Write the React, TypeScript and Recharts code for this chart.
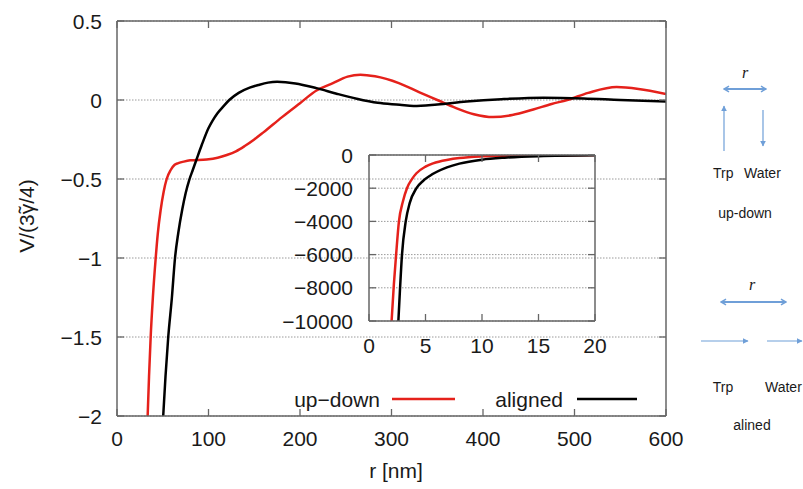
import React from "react";
import { LineChart, Line, XAxis, YAxis, CartesianGrid } from "recharts";

// ---- main chart data (r in nm, V/(3γ̃/4)) ----
const upDownR = [33.5, 35, 36.8, 39.2, 42.3, 44.5, 47.7, 51, 54.3, 58.7, 63, 67, 73, 80, 98, 110, 120, 130, 140, 150, 160, 180, 200, 218, 236, 252, 266, 282, 308, 330, 350, 370, 390, 411, 432, 455, 475, 492, 515, 546, 570, 600];
const upDownV = [-2, -1.75, -1.5, -1.25, -1.0, -0.85, -0.696, -0.58, -0.5, -0.443, -0.41, -0.4, -0.39, -0.382, -0.376, -0.365, -0.348, -0.325, -0.29, -0.25, -0.205, -0.11, -0.02, 0.06, 0.107, 0.148, 0.16, 0.15, 0.107, 0.05, 0.0, -0.05, -0.09, -0.108, -0.095, -0.06, -0.025, 0.0, 0.045, 0.082, 0.07, 0.038];
const alignedR = [50.5, 53, 56, 60, 63.4, 67, 71.4, 75, 79, 83, 87, 92.6, 99.8, 104.5, 109.6, 116, 122.7, 133, 145, 154.5, 165, 175, 195, 218, 240, 262, 285, 309, 324, 350, 382, 420, 466, 510, 550, 600];
const alignedV = [-2, -1.75, -1.5, -1.25, -1.0, -0.84, -0.69, -0.59, -0.505, -0.44, -0.375, -0.285, -0.18, -0.13, -0.085, -0.042, 0.0, 0.045, 0.078, 0.095, 0.11, 0.115, 0.105, 0.075, 0.04, 0.008, -0.018, -0.03, -0.038, -0.028, -0.01, 0.005, 0.015, 0.01, 0.0, -0.01];

// ---- inset data ----
const insetUpDownR = [2.0, 2.2, 2.4, 2.65, 3.0, 3.36, 3.8, 4.2, 5.0, 5.67, 7, 8, 10, 12, 15, 20];
const insetUpDownV = [-10000, -7800, -6000, -4000, -2800, -2000, -1450, -1100, -700, -500, -280, -180, -80, -40, -15, -5];
const insetAlignedR = [2.6, 2.75, 2.92, 3.25, 3.6, 4.2, 4.8, 5.4, 6.9, 8, 10, 12, 15, 20];
const insetAlignedV = [-10000, -8000, -6000, -4000, -2900, -2000, -1550, -1250, -750, -520, -280, -160, -70, -20];

// ---- ticks ----
const mainXTicks = [0, 100, 200, 300, 400, 500, 600];
const mainYTicks = [-2, -1.5, -1, -0.5, 0, 0.5];
const insetXTicks = [0, 5, 10, 15, 20];
const insetYTicks = [-10000, -8000, -6000, -4000, -2000, 0];

const zip = (xs: number[], ys: number[]) => xs.map((x, i) => ({ r: x, v: ys[i] }));
const upDownData = zip(upDownR, upDownV);
const alignedData = zip(alignedR, alignedV);
const insetUpDownData = zip(insetUpDownR, insetUpDownV);
const insetAlignedData = zip(insetAlignedR, insetAlignedV);

const FONT = "'Liberation Sans', Arial, Helvetica, sans-serif";
const FRAME = "#666";
const TEXT = "#1a1a1a";
const RED = "#e5211b";
const fmt = (v: number) => (v < 0 ? "\u2212" + String(-v) : String(v));

const TICK = 7;

const BottomTick = (props: any) => {
  const { x, y, payload } = props;
  return (
    <g>
      <line x1={x} x2={x} y1={y} y2={y - TICK} stroke={FRAME} strokeWidth={1.3} />
      <text x={x} y={y + 30} textAnchor="middle" fontSize={21} fontFamily={FONT} fill={TEXT}>
        {fmt(payload.value)}
      </text>
    </g>
  );
};
const TopTick = (props: any) => {
  const { x, y } = props;
  return <line x1={x} x2={x} y1={y} y2={y + TICK} stroke={FRAME} strokeWidth={1.3} />;
};
const LeftTick = (props: any) => {
  const { x, y, payload } = props;
  return (
    <g>
      <line x1={x} x2={x + TICK} y1={y} y2={y} stroke={FRAME} strokeWidth={1.3} />
      <text x={x - 15} y={y + 7.5} textAnchor="end" fontSize={21} fontFamily={FONT} fill={TEXT}>
        {fmt(payload.value)}
      </text>
    </g>
  );
};
const RightTick = (props: any) => {
  const { x, y } = props;
  return <line x1={x} x2={x - TICK} y1={y} y2={y} stroke={FRAME} strokeWidth={1.3} />;
};
const InsetBottomTick = (props: any) => {
  const { x, y, payload } = props;
  return (
    <g>
      <line x1={x} x2={x} y1={y} y2={y - TICK} stroke={FRAME} strokeWidth={1.3} />
      <text x={x} y={y + 32} textAnchor="middle" fontSize={21} fontFamily={FONT} fill={TEXT}>
        {fmt(payload.value)}
      </text>
    </g>
  );
};
const InsetLeftTick = (props: any) => {
  const { x, y, payload } = props;
  return (
    <g>
      <line x1={x} x2={x + TICK} y1={y} y2={y} stroke={FRAME} strokeWidth={1.3} />
      <text x={x - 16} y={y + 7.5} textAnchor="end" fontSize={21} fontFamily={FONT} fill={TEXT}>
        {fmt(payload.value)}
      </text>
    </g>
  );
};

const W = 803;
const H = 489;
const ARROW = "#6f9fd8";

type Box = { left: number; top: number; right: number; bottom: number };

function Panel(props: {
  box: Box;
  xDomain: [number, number];
  yDomain: [number, number];
  xTicks: number[];
  yTicks: number[];
  bottomTick: React.ReactElement;
  leftTick: React.ReactElement;
  series: { data: { r: number; v: number }[]; color: string }[];
}) {
  const { box, xDomain, yDomain, xTicks, yTicks, bottomTick, leftTick, series } = props;
  // axes are 1px thick, so the margin is reduced by 1 on each side
  const margin = { top: box.top - 1, left: box.left - 1, right: W - box.right - 1, bottom: H - box.bottom - 1 };
  const axisLine = { stroke: FRAME, strokeWidth: 1.5 };
  return (
    <LineChart width={W} height={H} margin={margin}>
      <CartesianGrid xAxisId="b" yAxisId="l" vertical={false} stroke="#9a9a9a" strokeDasharray="1.5 1.5" strokeWidth={1} />
      <XAxis xAxisId="b" dataKey="r" type="number" domain={xDomain} ticks={xTicks} allowDataOverflow height={1}
        tickSize={0} tickMargin={0} tick={bottomTick} tickLine={false} axisLine={axisLine} interval={0} />
      <XAxis xAxisId="t" orientation="top" dataKey="r" type="number" domain={xDomain} ticks={xTicks} allowDataOverflow height={1}
        tickSize={0} tickMargin={0} tick={<TopTick />} tickLine={false} axisLine={axisLine} interval={0} />
      <YAxis yAxisId="l" type="number" domain={yDomain} ticks={yTicks} allowDataOverflow width={1}
        tickSize={0} tickMargin={0} tick={leftTick} tickLine={false} axisLine={axisLine} interval={0} />
      <YAxis yAxisId="rt" orientation="right" type="number" domain={yDomain} ticks={yTicks} allowDataOverflow width={1}
        tickSize={0} tickMargin={0} tick={<RightTick />} tickLine={false} axisLine={axisLine} interval={0} />
      {series.map((s, i) => (
        <Line key={i} xAxisId="b" yAxisId="l" data={s.data} dataKey="v" type="monotone" stroke={s.color}
          strokeWidth={2.5} dot={false} isAnimationActive={false} />
      ))}
    </LineChart>
  );
}

export default function App() {
  return (
    <div style={{ position: "absolute", left: 0, top: 0, width: W, height: H, background: "#fff" }}>
      <div style={{ position: "absolute", left: 0, top: 0 }}>
        <Panel
          box={{ left: 117, top: 21, right: 666, bottom: 416 }}
          xDomain={[0, 600]}
          yDomain={[-2, 0.5]}
          xTicks={mainXTicks}
          yTicks={mainYTicks}
          bottomTick={<BottomTick />}
          leftTick={<LeftTick />}
          series={[
            { data: upDownData, color: RED },
            { data: alignedData, color: "#000" },
          ]}
        />
      </div>
      <div style={{ position: "absolute", left: 0, top: 0 }}>
        <Panel
          box={{ left: 369, top: 155, right: 595, bottom: 321 }}
          xDomain={[0, 20]}
          yDomain={[-10000, 0]}
          xTicks={insetXTicks}
          yTicks={insetYTicks}
          bottomTick={<InsetBottomTick />}
          leftTick={<InsetLeftTick />}
          series={[
            { data: insetUpDownData, color: RED },
            { data: insetAlignedData, color: "#000" },
          ]}
        />
      </div>

      {/* titles, legend, annotations */}
      <svg width={W} height={H} style={{ position: "absolute", left: 0, top: 0, pointerEvents: "none" }}>
        <defs>
          <marker id="ah" viewBox="0 0 10 10" refX="9" refY="5" markerWidth="5" markerHeight="5" orient="auto-start-reverse">
            <path d="M0,0 L10,5 L0,10 z" fill={ARROW} />
          </marker>
          <marker id="ahOpen" viewBox="0 0 10 10" refX="8" refY="5" markerWidth="4" markerHeight="4" orient="auto-start-reverse">
            <path d="M1,1 L8,5 L1,9" fill="none" stroke={ARROW} strokeWidth={2} />
          </marker>
        </defs>
        <text x={396} y={478} textAnchor="middle" fontSize={21} fontFamily={FONT} fill={TEXT}>
          r [nm]
        </text>
        <text x={34} y={216} textAnchor="middle" fontSize={21} fontFamily={FONT} fill={TEXT} transform="rotate(-90 34 216)">
          <tspan>V/(3γ</tspan>
          <tspan dx={-9.5} dy={-1}>˜</tspan>
          <tspan dx={2.5} dy={1}>/4)</tspan>
        </text>

        {/* legend */}
        <text x={380} y={407} textAnchor="end" fontSize={21} fontFamily={FONT} fill={TEXT}>
          up−down
        </text>
        <line x1={392} x2={455} y1={399} y2={399} stroke={RED} strokeWidth={2.5} />
        <text x={563} y={407} textAnchor="end" fontSize={21} fontFamily={FONT} fill={TEXT}>
          aligned
        </text>
        <line x1={577} x2={637} y1={399} y2={399} stroke="#000" strokeWidth={2.5} />

        {/* up-down schematic */}
        <text x={745} y={78} textAnchor="middle" fontSize={16} fontStyle="italic" fontFamily="'Liberation Serif', serif" fill={TEXT}>
          r
        </text>
        <line x1={724} x2={766} y1={89} y2={89} stroke={ARROW} strokeWidth={1.8} markerStart="url(#ahOpen)" markerEnd="url(#ahOpen)" />
        <line x1={724} x2={724} y1={151} y2={106} stroke={ARROW} strokeWidth={1.2} markerEnd="url(#ah)" />
        <line x1={763} x2={763} y1={110} y2={146} stroke={ARROW} strokeWidth={1.2} markerEnd="url(#ah)" />
        <text x={713} y={178} fontSize={14} fontFamily={FONT} fill={TEXT}>
          Trp
        </text>
        <text x={744} y={178} fontSize={14} fontFamily={FONT} fill={TEXT}>
          Water
        </text>
        <text x={745} y={218} textAnchor="middle" fontSize={14} fontFamily={FONT} fill={TEXT}>
          up-down
        </text>

        {/* aligned schematic */}
        <text x={752} y={290} textAnchor="middle" fontSize={16} fontStyle="italic" fontFamily="'Liberation Serif', serif" fill={TEXT}>
          r
        </text>
        <line x1={721} x2={786} y1={302} y2={302} stroke={ARROW} strokeWidth={1.8} markerStart="url(#ahOpen)" markerEnd="url(#ahOpen)" />
        <line x1={701} x2={748} y1={341} y2={341} stroke={ARROW} strokeWidth={1.2} markerEnd="url(#ah)" />
        <line x1={767} x2={802} y1={341} y2={341} stroke={ARROW} strokeWidth={1.2} markerEnd="url(#ah)" />
        <text x={723} y={392} textAnchor="middle" fontSize={14} fontFamily={FONT} fill={TEXT}>
          Trp
        </text>
        <text x={765} y={392} fontSize={14} fontFamily={FONT} fill={TEXT}>
          Water
        </text>
        <text x={752} y={430} textAnchor="middle" fontSize={14} fontFamily={FONT} fill={TEXT}>
          alined
        </text>
      </svg>
    </div>
  );
}
